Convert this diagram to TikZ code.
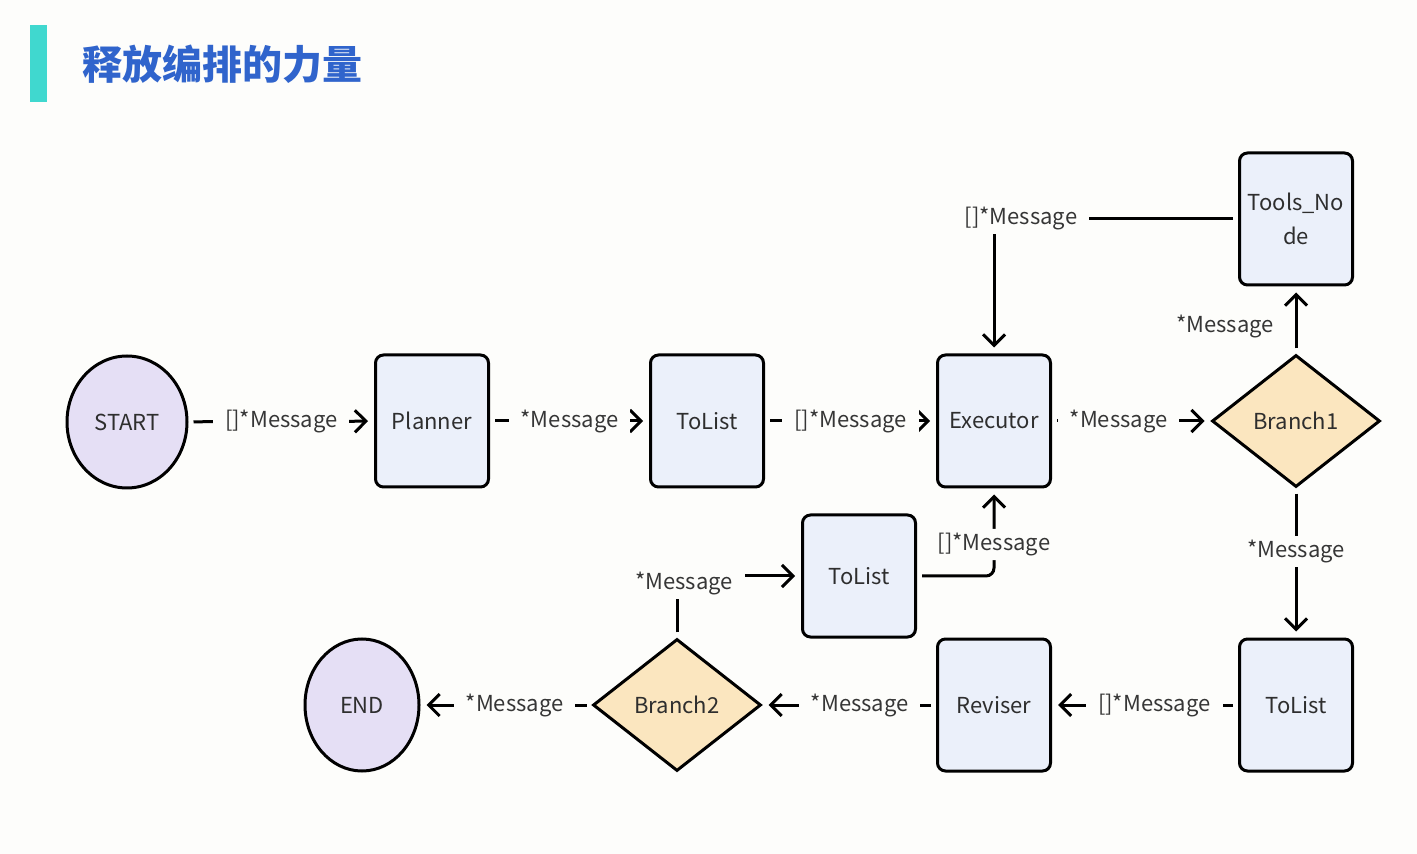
\documentclass[tikz,border=0pt]{standalone}
\usepackage{fontspec}
\setmainfont{Noto Sans CJK SC}
\newfontfamily\cjk{Noto Sans CJK SC}
\usetikzlibrary{arrows.meta,shapes.geometric}
\definecolor{bgcol}{HTML}{FDFDFB}
\definecolor{barcol}{HTML}{40D8CF}
\definecolor{titlecol}{HTML}{3064CC}
\definecolor{procfill}{HTML}{EBF0FA}
\definecolor{termfill}{HTML}{E5DFF5}
\definecolor{brfill}{HTML}{FBE6BF}
\definecolor{txtcol}{HTML}{2E2E2E}
\definecolor{lblcol}{HTML}{363636}

\begin{document}
\begin{tikzpicture}[x=0.5pt,y=-0.5pt
	,>={Straight Barb[length=5.5pt,width=11pt]}
	,line width=1.5pt
	,font=\fontsize{11}{17}\selectfont
	,text=txtcol]
  \tikzset{
    proc/.style={draw=black,fill=procfill,rounded corners=4pt
      ,minimum width=56.5pt,minimum height=66pt,align=center},
    term/.style={ellipse,draw=black,fill=termfill
      ,minimum height=66pt,inner sep=0pt},
    branch/.style={diamond,draw=black,fill=brfill
      ,minimum width=84pt,minimum height=66pt,inner sep=0pt},
    msg/.style={fill=bgcol,inner xsep=6pt,inner ysep=2pt,text=lblcol},
    flow/.style={->,shorten <=2.5pt,shorten >=3pt}
  }
  \useasboundingbox[fill=bgcol] (0,0) rectangle (1417,854);

  % title
  \fill[barcol] (30,25) rectangle (47,102);
  \node[anchor=west,text=titlecol
    ,font=\cjk\bfseries\fontsize{20}{24}\selectfont] (title) at (74,64)
    {释放编排的力量};

  % top row
  \node[term,minimum width=60pt] (start) at (127,422) {START};
  \node[proc] (planner)  at (432,421) {Planner};
  \node[proc] (tolist1)  at (707,421) {ToList};
  \node[proc] (executor) at (994,421) {Executor};
  \node[branch] (branch1) at (1296,421) {Branch1};
  \node[proc] (tools)    at (1296,219) {Tools\_No\\de};
  % middle
  \node[proc,minimum height=61pt] (tolist2) at (859,576) {ToList};
  % bottom row
  \node[proc] (tolist3)  at (1296,705) {ToList};
  \node[proc] (reviser)  at (994,705) {Reviser};
  \node[branch] (branch2) at (677,705) {Branch2};
  \node[term,minimum width=57pt] (end) at (362,705) {END};

  % horizontals
  \path[flow] (start)    edge node[msg] {[]*Message} (planner);
  \path[flow] (planner)  edge node[msg] {*Message}   (tolist1);
  \path[flow] (tolist1)  edge node[msg] {[]*Message} (executor);
  \path[flow] (executor) edge node[msg,pos=0.42] {*Message} (branch1);
  \path[flow] (tolist3)  edge node[msg,pos=0.45] {[]*Message} (reviser);
  \path[flow] (reviser)  edge node[msg,pos=0.44] {*Message} (branch2);
  \path[flow] (branch2)  edge node[msg,pos=0.45] {*Message} (end);

  % verticals
  \path[flow] (branch1) edge node[left=7pt,pos=0.4,text=lblcol] {*Message} (tools);
  \path[flow] (branch1) edge node[msg,pos=0.42] {*Message} (tolist3);

  % loops back to executor
  \draw[flow] (tools) -| node[msg,pos=0.5,xshift=13.5pt] {[]*Message} (executor);
  \draw[flow,rounded corners=4pt] (tolist2) -| node[msg,pos=0.68] {[]*Message} (executor);
  \draw[flow] (branch2) |- node[msg,pos=0.5,xshift=3.5pt,yshift=-3.5pt] {*Message} (tolist2);
\end{tikzpicture}
\end{document}
